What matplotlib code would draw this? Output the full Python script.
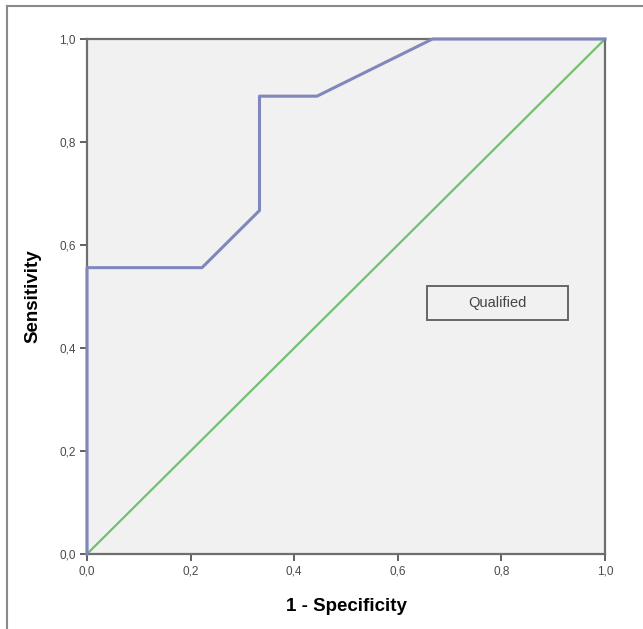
import matplotlib.pyplot as plt
from matplotlib.lines import Line2D
from matplotlib.patches import Rectangle

plt.rcParams['font.family'] = ['Liberation Sans', 'DejaVu Sans']

# ROC curve points (1 - specificity, sensitivity)
fpr = [0.0, 0.0, 0.222, 0.333, 0.333, 0.444, 0.667, 1.0]
tpr = [0.0, 0.556, 0.556, 0.667, 0.889, 0.889, 1.0, 1.0]
ref_line = [0.0, 1.0]
ticks = [0.0, 0.2, 0.4, 0.6, 0.8, 1.0]
tick_labels = ['0,0', '0,2', '0,4', '0,6', '0,8', '1,0']

fig = plt.figure(figsize=(6.43, 6.29), dpi=100)
ax = fig.add_axes([87 / 643, 1 - 554 / 629, 518 / 643, 515 / 629])
ax.set_facecolor('#f1f1f1')

ax.plot(ref_line, ref_line, color='#72c072', lw=1.6, clip_on=False, zorder=2)
ax.plot(fpr, tpr, color='#8088bb', lw=2.2, clip_on=False, zorder=3)

ax.set_xlim(0, 1)
ax.set_ylim(0, 1)
ax.set_xticks(ticks)
ax.set_xticklabels(tick_labels)
ax.set_yticks(ticks)
ax.set_yticklabels(tick_labels)
ax.tick_params(direction='out', length=5, width=1.3, color='#555555',
               labelsize=8.5, labelcolor='#4a4a4a', pad=3)
for s in ax.spines.values():
    s.set_color('#6e6e6e')
    s.set_linewidth(1.6)

ax.set_xlabel('1 - Specificity', fontsize=13.5, fontweight='bold', labelpad=15)
ax.set_ylabel('Sensitivity', fontsize=13.5, fontweight='bold', labelpad=13)

# legend box
ax.add_patch(Rectangle((0.656, 0.454), 0.273, 0.066, transform=ax.transAxes,
                       fc='#f1f1f1', ec='#666666', lw=1.4, zorder=4))
ax.text(0.7925, 0.487, 'Qualified', fontsize=10.5, color='#444444', ha='center', va='center',
        transform=ax.transAxes, zorder=5)

# outer frame (top and left edges visible)
fig.add_artist(Line2D([7 / 643, 1], [1 - 6 / 629, 1 - 6 / 629], color='#8a8a8a', lw=1.5))
fig.add_artist(Line2D([7 / 643, 7 / 643], [0, 1 - 6 / 629], color='#8a8a8a', lw=1.5))

fig.savefig('out.png', dpi=100)
